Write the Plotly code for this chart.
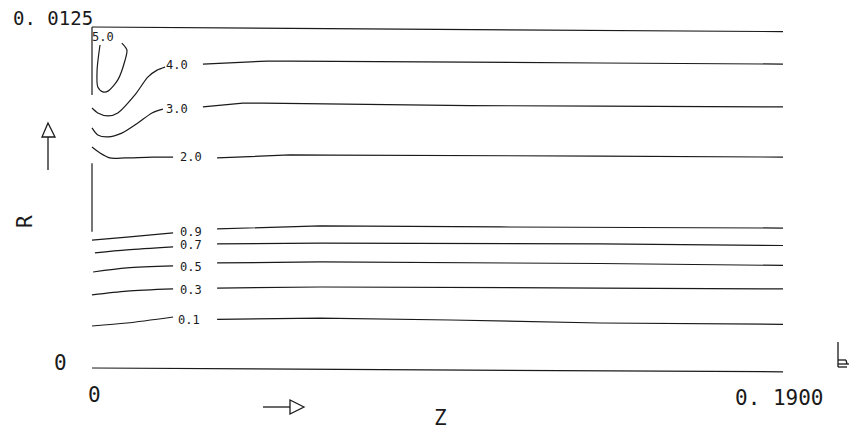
import plotly.graph_objects as go

# ---- data (z in m, r in m) ----
level_text = ["5.0", "4.0", "3.0", "2.0", "0.9", "0.7", "0.5", "0.3", "0.1"]
label_z = [0.0030, 0.0234, 0.0234, 0.0272, 0.0272, 0.0272, 0.0272, 0.0272, 0.0267]
label_r = [0.01212, 0.01111, 0.00949, 0.00772, 0.00499, 0.00451, 0.00370, 0.00286, 0.00176]

z_50 = [0.0022, 0.0014, 0.0016, 0.0030, 0.0044, 0.0071, 0.0091, 0.0096, 0.0082]
r_50 = [0.01184, 0.01092, 0.01030, 0.01012, 0.01015, 0.01056, 0.01129, 0.01166, 0.01191]

z_40_a = [0, 0.0016, 0.0044, 0.0071, 0.0118, 0.0154, 0.0179, 0.0201]
r_40_a = [0.00953, 0.00935, 0.00924, 0.00935, 0.01001, 0.01067, 0.01092, 0.01103]
z_40_b = [0.0305, 0.0415, 0.0481, 0.0544, 0.0654, 0.0839, 0.1039, 0.1397, 0.19]
r_40_b = [0.01114, 0.01122, 0.01125, 0.01125, 0.01124, 0.01121, 0.01119, 0.01118, 0.01114]

z_30_a = [0, 0.0016, 0.0044, 0.0082, 0.0126, 0.0165, 0.0195]
r_30_a = [0.00880, 0.00854, 0.00847, 0.00861, 0.00898, 0.00935, 0.00949]
z_30_b = [0.0305, 0.0415, 0.0470, 0.0654, 0.0839, 0.1039, 0.1397, 0.19]
r_30_b = [0.00957, 0.00971, 0.00971, 0.00968, 0.00964, 0.00962, 0.00960, 0.00957]

z_20_a = [0, 0.0022, 0.0049, 0.0091, 0.0165, 0.0223]
r_20_a = [0.00810, 0.00788, 0.00770, 0.00770, 0.00773, 0.00773]
z_20_b = [0.0344, 0.0454, 0.0544, 0.0654, 0.1039, 0.1397, 0.19]
r_20_b = [0.00770, 0.00777, 0.00781, 0.00780, 0.00779, 0.00777, 0.00773]

z_09_a = [0, 0.0096, 0.0223]
r_09_a = [0.00469, 0.00480, 0.00495]
z_09_b = [0.0344, 0.0627, 0.1122, 0.19]
r_09_b = [0.00510, 0.00521, 0.00517, 0.00513]

z_07_a = [0.0008, 0.0096, 0.0223]
r_07_a = [0.00422, 0.00433, 0.00444]
z_07_b = [0.0344, 0.0627, 0.1397, 0.19]
r_07_b = [0.00455, 0.00458, 0.00455, 0.00449]

z_05_a = [0.0003, 0.0096, 0.0223]
r_05_a = [0.00352, 0.00367, 0.00374]
z_05_b = [0.0344, 0.0627, 0.1397, 0.19]
r_05_b = [0.00385, 0.00389, 0.00383, 0.00376]

z_03_a = [0, 0.0096, 0.0223]
r_03_a = [0.00268, 0.00282, 0.00290]
z_03_b = [0.0344, 0.0627, 0.1397, 0.19]
r_03_b = [0.00293, 0.00297, 0.00293, 0.00290]

z_01_a = [0, 0.0096, 0.0223]
r_01_a = [0.00154, 0.00165, 0.00187]
z_01_b = [0.0344, 0.0627, 0.0986, 0.1397, 0.19]
r_01_b = [0.00178, 0.00183, 0.00176, 0.00165, 0.00160]

# domain boundary (top wall, axis, inlet wall pieces)
z_top = [0, 0.19]
r_top = [0.0125, 0.01233]
z_bottom = [0, 0.19]
r_bottom = [0, -0.00014]
z_wall1 = [0, 0]
r_wall1 = [0.0125, 0.01001]
z_wall2 = [0, 0]
r_wall2 = [0.00751, 0.00499]

x_tick_vals = [0, 0.19]
x_tick_text = ["0", "0. 1900"]
y_tick_vals = [0, 0.0125]
y_tick_text = ["0", "0. 0125"]

LC = "#1a1a1a"
FONT = "DejaVu Sans Mono"

fig = go.Figure()

def add_line(z, r, smooth=False):
    fig.add_trace(go.Scatter(
        x=z, y=r, mode="lines",
        line=dict(color=LC, width=1.2, shape="spline" if smooth else "linear",
                  smoothing=0.8),
        hoverinfo="skip", showlegend=False))

for z, r in [(z_top, r_top), (z_bottom, r_bottom), (z_wall1, r_wall1), (z_wall2, r_wall2)]:
    add_line(z, r)

add_line(z_50, r_50, smooth=True)
for za, ra, zb, rb in [
    (z_40_a, r_40_a, z_40_b, r_40_b),
    (z_30_a, r_30_a, z_30_b, r_30_b),
    (z_20_a, r_20_a, z_20_b, r_20_b),
    (z_09_a, r_09_a, z_09_b, r_09_b),
    (z_07_a, r_07_a, z_07_b, r_07_b),
    (z_05_a, r_05_a, z_05_b, r_05_b),
    (z_03_a, r_03_a, z_03_b, r_03_b),
    (z_01_a, r_01_a, z_01_b, r_01_b),
]:
    add_line(za, ra, smooth=True)
    add_line(zb, rb)

annotations = []
for t, z, r in zip(level_text, label_z, label_r):
    annotations.append(dict(x=z, y=r, xref="x", yref="y", text=t, showarrow=False,
                            font=dict(family=FONT, size=12, color=LC),
                            xanchor="center", yanchor="middle"))

# tick labels
annotations.append(dict(x=x_tick_vals[0], y=y_tick_vals[1], xref="x", yref="y",
                        text=y_tick_text[1], showarrow=False, xanchor="right",
                        yanchor="middle", xshift=3, yshift=9,
                        font=dict(family=FONT, size=19, color=LC)))
annotations.append(dict(x=x_tick_vals[0], y=y_tick_vals[0], xref="x", yref="y",
                        text=y_tick_text[0], showarrow=False, xanchor="center",
                        yanchor="middle", xshift=-32, yshift=5,
                        font=dict(family=FONT, size=21, color=LC)))
annotations.append(dict(x=x_tick_vals[0], y=y_tick_vals[0], xref="x", yref="y",
                        text=x_tick_text[0], showarrow=False, xanchor="center",
                        yanchor="middle", xshift=2, yshift=-27,
                        font=dict(family=FONT, size=21, color=LC)))
annotations.append(dict(x=x_tick_vals[1], y=y_tick_vals[0], xref="x", yref="y",
                        text=x_tick_text[1], showarrow=False, xanchor="center",
                        yanchor="middle", xshift=-4, yshift=-30,
                        font=dict(family=FONT, size=21, color=LC)))

# layout geometry (the page body adds an 8px offset)
OFF = 8
W, H = 857 - OFF, 432 - OFF
L, T, R_, B = 88 - OFF, 21 - OFF, 70, 55
PW, PH = W - L - R_, H - T - B

def px(x):
    return (x - OFF - L) / PW

def py(y):
    return (H - B - (y - OFF)) / PH

annotations.append(dict(x=px(440), y=py(418), xref="paper", yref="paper", text="Z",
                        showarrow=False, xanchor="center", yanchor="middle",
                        font=dict(family=FONT, size=21, color=LC)))
annotations.append(dict(x=px(25), y=py(222), xref="paper", yref="paper", text="R",
                        showarrow=False, xanchor="center", yanchor="middle",
                        textangle=-90, font=dict(family=FONT, size=21, color=LC)))

def seg(x0, y0, x1, y1):
    return dict(type="line", xref="paper", yref="paper", x0=px(x0), y0=py(y0),
                x1=px(x1), y1=py(y1), line=dict(color=LC, width=1.3))

def poly(pts):
    d = "M " + " L ".join(f"{px(a):.5f},{py(b):.5f}" for a, b in pts) + " Z"
    return dict(type="path", xref="paper", yref="paper", path=d,
                line=dict(color=LC, width=1.3), fillcolor="rgba(0,0,0,0)")

shapes = [
    seg(48, 137, 48, 170),
    poly([(48, 123), (42, 137), (55, 137)]),
    seg(263, 407, 290, 407),
    poly([(304, 407), (290, 400), (290, 414)]),
    seg(838, 342, 838, 367),
    seg(838, 364, 857, 364),
    seg(838, 360, 846, 360),
    seg(846, 360, 847, 364),
    seg(838, 367, 847, 367),
]

fig.update_layout(
    width=W, height=H, autosize=False,
    margin=dict(l=L, r=R_, t=T, b=B, pad=0),
    paper_bgcolor="white", plot_bgcolor="white",
    xaxis=dict(range=[-0.0011, 0.1911], visible=False, fixedrange=True),
    yaxis=dict(range=[-0.00033, 0.01272], visible=False, fixedrange=True),
    annotations=annotations, shapes=shapes, showlegend=False,
)

fig.write_html("out.html")
